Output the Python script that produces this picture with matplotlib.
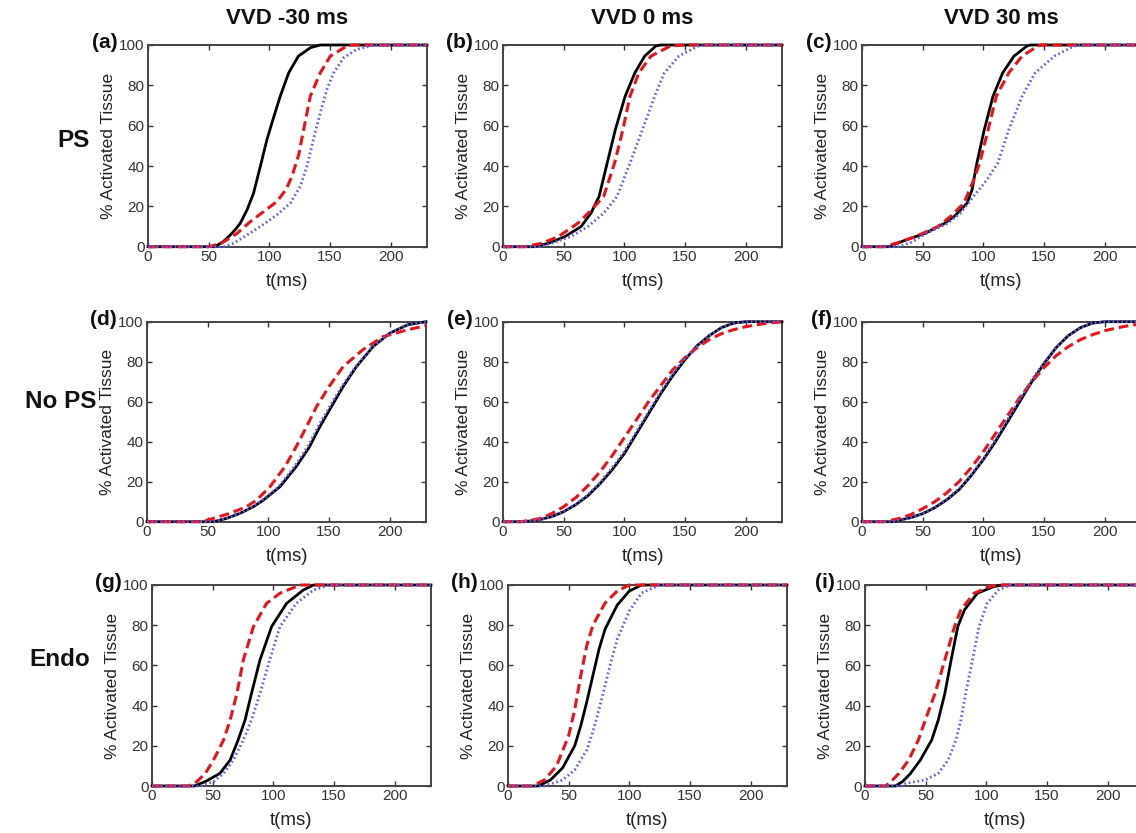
import matplotlib
matplotlib.use("Agg")
import matplotlib.pyplot as plt

plt.rcParams['font.family'] = ['Liberation Sans', 'DejaVu Sans']

# ---------------- data: (t [ms], % activated tissue) ----------------
col_titles = ["VVD -30 ms", "VVD 0 ms", "VVD 30 ms"]
row_titles = ["PS", "No PS", "Endo"]
panel_tags = ["(a)", "(b)", "(c)", "(d)", "(e)", "(f)", "(g)", "(h)", "(i)"]
x_ticks = [0, 50, 100, 150, 200]
y_ticks = [0, 20, 40, 60, 80, 100]

a_black = [(0, 0), (55, 0), (62, 2.5), (67.9, 5.8), (72, 8.5), (76, 11.6), (81.6, 18.2), (87, 26.5), (92.6, 39.8),
           (98, 53), (103, 63), (109, 74.6), (116, 86.2), (124, 94.5), (134, 98.7), (142, 100), (230, 100)]
a_red = [(0, 0), (50, 0), (60, 1.5), (73.4, 6.6), (84.3, 12.4), (95.3, 17.4), (106.3, 22.4), (114, 28.5),
         (119, 35.5), (124.2, 45.5), (128.3, 58), (133.8, 74.6), (142, 86.2), (150.3, 94.5), (164, 99.5),
         (168, 100), (230, 100)]
a_blue = [(0, 0), (62.4, 0), (70.6, 1.7), (81.6, 5.8), (92.6, 10), (106.3, 15.8), (117.3, 21.6), (125.5, 29.9),
          (131, 39.8), (137, 54.7), (142, 66.3), (147.5, 78), (153, 86.2), (161.3, 93.7), (172, 97.8),
          (186, 100), (230, 100)]

b_black = [(0, 0), (25, 0), (37.6, 1.7), (51, 5), (64.4, 10), (72.5, 16.6), (79.2, 24.9), (85.9, 41.5),
           (92.6, 58), (100.7, 74.6), (108.7, 86.2), (116.8, 94.5), (126, 99.5), (130, 100), (230, 100)]
b_red = [(0, 0), (18, 0), (32, 1.7), (45.6, 5), (61.7, 11.6), (72.5, 18), (83, 24.9), (92, 41.5),
         (98.8, 58), (104.7, 74.6), (112, 86.2), (122, 94.5), (138, 99.5), (150, 100), (230, 100)]
b_blue = [(0, 0), (30, 0), (40, 1.7), (56, 5), (70, 10), (83, 16.6), (94, 24.9), (104.7, 41.5),
          (115, 58), (125, 74.6), (133, 86.2), (145, 94.5), (161, 99.5), (172, 100), (230, 100)]

c_black = [(0, 0), (22, 0), (36, 3.3), (52, 6.6), (68, 11.6), (76, 15), (86.7, 21.6), (90.7, 28.2),
           (94.7, 41.5), (100.8, 58), (108, 74.6), (116, 86.2), (125.3, 94.5), (136, 99.5), (139, 100), (230, 100)]
c_red = [(0, 0), (18, 0), (28, 1.7), (44, 5), (62.7, 10), (73, 15), (84, 21.6), (92, 33), (97, 41.5),
         (104, 58), (110.7, 74.6), (121, 86.2), (132, 94.5), (145, 99.5), (148, 100), (230, 100)]
c_blue = [(0, 0), (30, 0), (40, 2), (53, 6.6), (70.7, 11.6), (81, 16.6), (92, 24.9), (102.7, 33),
          (112, 41.5), (121, 58), (132, 74.6), (142.7, 86.2), (158.7, 94.5), (174.7, 99.5), (183, 100), (230, 100)]

d_black = [(0, 0), (55, 0), (65.8, 1.7), (76.7, 4.2), (87.7, 7.5), (96, 10.8), (109.6, 17.5), (123, 27.5),
           (134, 37.5), (142.5, 47.5), (152, 57.5), (161.6, 67.5), (172.6, 77.5), (186.3, 87.5), (200, 94.2),
           (215, 98.5), (230, 100)]
d_red = [(0, 0), (45, 0), (55, 1.7), (68.5, 4.2), (82, 7.5), (90.4, 10.8), (101.4, 17.5), (113.7, 27.5),
         (123, 37.5), (131.5, 47.5), (139.7, 57.5), (150, 67.5), (161.6, 77.5), (178, 86), (194.5, 92.5),
         (215, 96), (230, 98)]
d_blue = [(0, 0), (55, 0), (65.8, 1.7), (76.7, 4.2), (87, 7.5), (95, 10.8), (108.5, 17.5), (121.5, 27.5),
          (132.5, 37.5), (141, 47.5), (150.5, 57.5), (160.5, 67.5), (172, 77.5), (186, 87.5), (200, 94.2),
          (215, 98.5), (230, 100)]

e_black = [(0, 0), (18, 0), (30, 1), (40, 2.5), (50, 5), (60, 8.5), (70, 13), (80, 19), (90, 26), (100, 34),
           (110, 44), (120, 54), (130, 64), (140, 73), (150, 81), (160, 88), (170, 93), (180, 97),
           (190, 99.3), (200, 100), (230, 100)]
e_red = [(0, 0), (15, 0), (30, 1.5), (40, 4), (50, 7.5), (60, 12), (70, 18), (80, 25), (90, 33), (100, 42),
         (110, 51), (120, 60), (130, 68), (140, 76), (150, 82), (160, 87), (170, 91), (180, 94), (190, 96),
         (200, 97.5), (215, 99), (230, 100)]
e_blue = [(0, 0), (18, 0), (30, 1), (40, 2.5), (50, 5), (60, 8.7), (70, 13.5), (80, 19.5), (90, 27), (100, 35),
          (110, 45), (120, 55), (130, 65), (140, 74), (150, 81.5), (160, 88), (170, 93), (180, 97),
          (190, 99.3), (200, 100), (230, 100)]

f_black = [(0, 0), (25, 0), (40, 2), (50, 4), (60, 7), (70, 11), (80, 16), (90, 23), (100, 31), (110, 40),
           (120, 50), (130, 60), (140, 70), (150, 79), (160, 87), (170, 93), (180, 97), (190, 99.3),
           (200, 100), (230, 100)]
f_red = [(0, 0), (18, 0), (30, 1.5), (40, 3.5), (50, 6.5), (60, 10), (70, 14.5), (80, 20), (90, 27), (100, 35),
         (110, 44), (120, 53), (130, 62), (140, 70), (150, 77), (160, 83), (170, 87.5), (180, 91), (190, 93.5),
         (200, 95.5), (215, 97.5), (230, 99)]
f_blue = [(0, 0), (25, 0), (40, 2), (50, 4), (60, 7.2), (70, 11.3), (80, 16.5), (90, 23.5), (100, 31.5),
          (110, 41), (120, 51), (130, 61), (140, 71), (150, 79.5), (160, 87), (170, 93), (180, 97),
          (190, 99.3), (200, 100), (230, 100)]

g_black = [(0, 0), (35, 0), (44, 2.2), (56, 6.3), (64.4, 12.9), (71, 22.9), (76.7, 32.8), (82, 46),
           (89, 62.7), (98.6, 79.3), (111, 90.9), (124.7, 97.5), (133, 100), (230, 100)]
g_red = [(0, 0), (30, 0), (37, 2.2), (44, 6.3), (50.7, 12.9), (59, 22.9), (64.4, 32.8), (70, 46),
         (75.3, 62.7), (83.6, 79.3), (94.5, 90.9), (105.5, 95.9), (122, 100), (230, 100)]
g_blue = [(0, 0), (40, 0), (50.7, 2.2), (59, 6.3), (67, 12.9), (75.3, 22.9), (82, 32.8), (89, 46),
          (97, 62.7), (105.5, 79.3), (119, 90.9), (133, 97.5), (146.6, 100), (230, 100)]

h_black = [(0, 0), (25, 0), (35, 3), (45, 9), (55, 20), (60, 30), (65, 42), (70, 55), (75, 68), (80, 78),
           (90, 90), (100, 97), (110, 100), (230, 100)]
h_red = [(0, 0), (20, 0), (30, 3), (40, 10), (50, 25), (55, 38), (60, 55), (65, 70), (70, 80), (80, 91),
         (90, 97), (100, 100), (230, 100)]
h_blue = [(0, 0), (30, 0), (45, 3), (55, 8), (65, 18), (70, 27), (75, 38), (80, 50), (85, 62), (90, 73),
          (100, 87), (110, 96), (125, 100), (230, 100)]

i_black = [(0, 0), (25, 0), (31, 2.2), (37.6, 6.3), (45.6, 12.9), (55, 22.9), (60.4, 32.8), (65.8, 46),
           (71, 62.7), (76.5, 79.3), (82, 87.6), (92.6, 95.9), (106, 99.2), (114, 100), (230, 100)]
i_red = [(0, 0), (17, 0), (21.5, 2.2), (28, 6.3), (36, 12.9), (44, 22.9), (49.7, 32.8), (57.7, 46),
         (65.8, 62.7), (73.8, 79.3), (79, 87.6), (90, 95.9), (103, 99.2), (109, 100), (230, 100)]
i_blue = [(0, 0), (30, 0), (33.6, 1.3), (49.7, 3), (60.4, 6.3), (68.5, 12.9), (75, 22.9), (79, 32.8),
          (83, 46), (88.6, 62.7), (94, 79.3), (100.7, 90.9), (110, 97.5), (119.5, 100), (230, 100)]

panels = [
    (a_black, a_red, a_blue), (b_black, b_red, b_blue), (c_black, c_red, c_blue),
    (d_black, d_red, d_blue), (e_black, e_red, e_blue), (f_black, f_red, f_blue),
    (g_black, g_red, g_blue), (h_black, h_red, h_blue), (i_black, i_red, i_blue),
]

# ---------------- layout (pixels) ----------------
W, H = 1136, 833
row_top = [45, 321.7, 585]
row_h = [201.7, 200, 201]
col_left = [[148, 503, 862], [147, 503, 862], [152, 508, 865]]
ax_w = 279

fig = plt.figure(figsize=(W / 100, H / 100), dpi=100)
fig.patch.set_facecolor('white')

tick_color = '#333333'
for r in range(3):
    for c in range(3):
        k = r * 3 + c
        l = col_left[r][c]
        top = row_top[r]
        h = row_h[r]
        ax = fig.add_axes([l / W, 1 - (top + h) / H, ax_w / W, h / H])
        blk, red, blu = panels[k]
        ax.plot([p[0] for p in blk], [p[1] for p in blk], color='black', lw=2.0, zorder=3, clip_on=False)
        ax.plot([p[0] for p in red], [p[1] for p in red], color='#e8141a', lw=2.2,
                linestyle=(0, (3.2, 1.6)), zorder=4, clip_on=False)
        ax.plot([p[0] for p in blu], [p[1] for p in blu], color='#5a5aff', lw=2.0,
                linestyle=(0, (0.6, 1.0)), zorder=5, clip_on=False)
        ax.set_xlim(0, 230)
        ax.set_ylim(0, 100)
        ax.set_xticks(x_ticks)
        ax.set_yticks(y_ticks)
        ax.tick_params(direction='in', top=True, right=True, length=3.5, width=1,
                       labelsize=11, colors=tick_color, pad=2.5)
        for s in ax.spines.values():
            s.set_color('#444444')
            s.set_linewidth(1.4)
        ax.set_xlabel('t(ms)', fontsize=13.5, color='#222222')
        ax.set_ylabel('% Activated Tissue', fontsize=12.5, color='#222222')
        ax.xaxis.set_label_coords(0.5, -26 / h)
        ax.yaxis.set_label_coords(-32 / ax_w, 0.5)
        # panel tag
        fig.text((l - 30) / W, 1 - (top - 2) / H, panel_tags[k], fontsize=15, fontweight='bold',
                 ha='right', va='center', color='#111111')

# column titles
for c in range(3):
    cx = col_left[0][c] + ax_w / 2
    fig.text(cx / W, 1 - 18 / H, col_titles[c], fontsize=16, fontweight='bold',
             ha='center', va='center', color='#111111')

# row titles
row_y = [140, 402, 660]
row_x = [74, 61, 60]
for r in range(3):
    fig.text(row_x[r] / W, 1 - row_y[r] / H, row_titles[r], fontsize=17.5, fontweight='bold',
             ha='center', va='center', color='#111111')

fig.savefig('out.png', dpi=100, facecolor='white')
